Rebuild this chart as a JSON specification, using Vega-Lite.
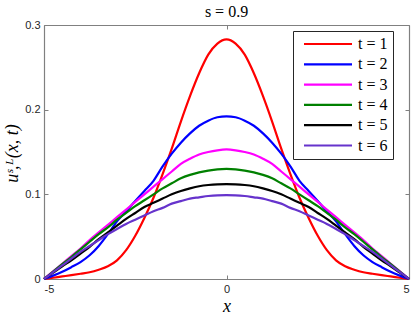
{
  "$schema": "https://vega.github.io/schema/vega-lite/v6.json",
  "width": 365,
  "height": 254,
  "autosize": "none",
  "padding": {"left": 44, "top": 25, "right": 5, "bottom": 42},
  "background": "white",
  "title": {"text": "s = 0.9", "font": "Liberation Serif", "fontSize": 16, "fontWeight": "normal", "color": "#000000", "offset": -1},
  "data": {"values": [
    {"x": -5, "t1": 0, "t2": 0, "t3": 0, "t4": 0, "t5": 0, "t6": 0},
    {"x": -4.75, "t1": 0.0015, "t2": 0.004, "t3": 0.009, "t4": 0.0088, "t5": 0.0075, "t6": 0.008},
    {"x": -4.5, "t1": 0.003, "t2": 0.0085, "t3": 0.018, "t4": 0.0175, "t5": 0.015, "t6": 0.016},
    {"x": -4.25, "t1": 0.0045, "t2": 0.014, "t3": 0.027, "t4": 0.026, "t5": 0.022, "t6": 0.024},
    {"x": -4, "t1": 0.0062, "t2": 0.02, "t3": 0.036, "t4": 0.035, "t5": 0.03, "t6": 0.032},
    {"x": -3.75, "t1": 0.008, "t2": 0.028, "t3": 0.046, "t4": 0.044, "t5": 0.038, "t6": 0.039},
    {"x": -3.5, "t1": 0.011, "t2": 0.039, "t3": 0.055, "t4": 0.053, "t5": 0.047, "t6": 0.046},
    {"x": -3.25, "t1": 0.015, "t2": 0.053, "t3": 0.064, "t4": 0.061, "t5": 0.055, "t6": 0.053},
    {"x": -3, "t1": 0.022, "t2": 0.068, "t3": 0.073, "t4": 0.07, "t5": 0.063, "t6": 0.059},
    {"x": -2.75, "t1": 0.034, "t2": 0.08, "t3": 0.082, "t4": 0.078, "t5": 0.071, "t6": 0.065},
    {"x": -2.5, "t1": 0.051, "t2": 0.092, "t3": 0.091, "t4": 0.086, "t5": 0.078, "t6": 0.07},
    {"x": -2.25, "t1": 0.072, "t2": 0.104, "t3": 0.1, "t4": 0.093, "t5": 0.085, "t6": 0.075},
    {"x": -2, "t1": 0.096, "t2": 0.116, "t3": 0.109, "t4": 0.1, "t5": 0.09, "t6": 0.08},
    {"x": -1.75, "t1": 0.124, "t2": 0.133, "t3": 0.118, "t4": 0.107, "t5": 0.095, "t6": 0.084},
    {"x": -1.5, "t1": 0.154, "t2": 0.148, "t3": 0.127, "t4": 0.113, "t5": 0.1, "t6": 0.089},
    {"x": -1.25, "t1": 0.186, "t2": 0.161, "t3": 0.136, "t4": 0.119, "t5": 0.104, "t6": 0.092},
    {"x": -1, "t1": 0.216, "t2": 0.172, "t3": 0.142, "t4": 0.123, "t5": 0.107, "t6": 0.095},
    {"x": -0.75, "t1": 0.243, "t2": 0.181, "t3": 0.147, "t4": 0.126, "t5": 0.1095, "t6": 0.0965},
    {"x": -0.5, "t1": 0.265, "t2": 0.187, "t3": 0.15, "t4": 0.128, "t5": 0.111, "t6": 0.098},
    {"x": -0.25, "t1": 0.278, "t2": 0.191, "t3": 0.152, "t4": 0.1295, "t5": 0.1118, "t6": 0.0988},
    {"x": 0, "t1": 0.283, "t2": 0.192, "t3": 0.153, "t4": 0.13, "t5": 0.112, "t6": 0.099},
    {"x": 0.25, "t1": 0.278, "t2": 0.191, "t3": 0.152, "t4": 0.1295, "t5": 0.1118, "t6": 0.0988},
    {"x": 0.5, "t1": 0.265, "t2": 0.187, "t3": 0.15, "t4": 0.128, "t5": 0.111, "t6": 0.098},
    {"x": 0.75, "t1": 0.243, "t2": 0.181, "t3": 0.147, "t4": 0.126, "t5": 0.1095, "t6": 0.0965},
    {"x": 1, "t1": 0.216, "t2": 0.172, "t3": 0.142, "t4": 0.123, "t5": 0.107, "t6": 0.095},
    {"x": 1.25, "t1": 0.186, "t2": 0.161, "t3": 0.136, "t4": 0.119, "t5": 0.104, "t6": 0.092},
    {"x": 1.5, "t1": 0.154, "t2": 0.148, "t3": 0.127, "t4": 0.113, "t5": 0.1, "t6": 0.089},
    {"x": 1.75, "t1": 0.124, "t2": 0.133, "t3": 0.118, "t4": 0.107, "t5": 0.095, "t6": 0.084},
    {"x": 2, "t1": 0.096, "t2": 0.116, "t3": 0.109, "t4": 0.1, "t5": 0.09, "t6": 0.08},
    {"x": 2.25, "t1": 0.072, "t2": 0.104, "t3": 0.1, "t4": 0.093, "t5": 0.085, "t6": 0.075},
    {"x": 2.5, "t1": 0.051, "t2": 0.092, "t3": 0.091, "t4": 0.086, "t5": 0.078, "t6": 0.07},
    {"x": 2.75, "t1": 0.034, "t2": 0.08, "t3": 0.082, "t4": 0.078, "t5": 0.071, "t6": 0.065},
    {"x": 3, "t1": 0.022, "t2": 0.068, "t3": 0.073, "t4": 0.07, "t5": 0.063, "t6": 0.059},
    {"x": 3.25, "t1": 0.015, "t2": 0.053, "t3": 0.064, "t4": 0.061, "t5": 0.055, "t6": 0.053},
    {"x": 3.5, "t1": 0.011, "t2": 0.039, "t3": 0.055, "t4": 0.053, "t5": 0.047, "t6": 0.046},
    {"x": 3.75, "t1": 0.008, "t2": 0.028, "t3": 0.046, "t4": 0.044, "t5": 0.038, "t6": 0.039},
    {"x": 4, "t1": 0.0062, "t2": 0.02, "t3": 0.036, "t4": 0.035, "t5": 0.03, "t6": 0.032},
    {"x": 4.25, "t1": 0.0045, "t2": 0.014, "t3": 0.027, "t4": 0.026, "t5": 0.022, "t6": 0.024},
    {"x": 4.5, "t1": 0.003, "t2": 0.0085, "t3": 0.018, "t4": 0.0175, "t5": 0.015, "t6": 0.016},
    {"x": 4.75, "t1": 0.0015, "t2": 0.004, "t3": 0.009, "t4": 0.0088, "t5": 0.0075, "t6": 0.008},
    {"x": 5, "t1": 0, "t2": 0, "t3": 0, "t4": 0, "t5": 0, "t6": 0}
  ]},
  "transform": [{"fold": ["t1", "t2", "t3", "t4", "t5", "t6"], "as": ["series", "u"]}],
  "layer": [
    {
      "mark": {"type": "line", "strokeWidth": 2.2, "interpolate": "monotone"},
      "encoding": {
        "x": {"field": "x", "type": "quantitative", "scale": {"domain": [-5, 5], "nice": false},
          "axis": {"values": [-5, 0, 5], "labelExpr": "datum.value < 0 ? '-' + (-datum.value) : '' + datum.value", "title": "x", "titleFont": "Liberation Serif", "titleFontStyle": "italic", "titleFontSize": 18, "titleFontWeight": "normal", "titlePadding": 3}},
        "y": {"field": "u", "type": "quantitative", "scale": {"domain": [0, 0.3], "nice": false},
          "axis": {"values": [0, 0.1, 0.2, 0.3], "labelExpr": "'' + datum.value", "title": "uˢ,ᴸ(x, t)", "titleFont": "Liberation Serif", "titleFontStyle": "italic", "titleFontSize": 18, "titleFontWeight": "normal", "titleX": -23, "titleY": 128, "titleAngle": -90, "titleAlign": "center", "titleBaseline": "bottom"}},
        "color": {"field": "series", "type": "nominal",
          "scale": {"domain": ["t1", "t2", "t3", "t4", "t5", "t6"], "range": ["#ff0000", "#0000ff", "#ff00ff", "#008000", "#000000", "#6633cc"]},
          "legend": {"title": null, "orient": "none", "legendX": 249, "legendY": 6, "labelExpr": "'t = ' + slice(datum.label, 1) + '\u00a0\u00a0\u00a0'",
            "symbolType": "M-0.4,0H9.2", "symbolSize": 100, "symbolStrokeWidth": 2.2, "labelFont": "Liberation Serif", "labelFontSize": 16, "labelColor": "#000000",
            "fillColor": "white", "strokeColor": "#262626", "padding": 5, "rowPadding": 4.3, "labelOffset": 44}}
      }
    },
    {
      "mark": {"type": "line", "opacity": 0},
      "encoding": {
        "x": {"field": "x", "type": "quantitative", "axis": {"orient": "top", "values": [-5, 0, 5], "labels": false, "title": null}},
        "y": {"field": "u", "type": "quantitative", "axis": {"orient": "right", "values": [0, 0.1, 0.2, 0.3], "labels": false, "title": null}}
      }
    }
  ],
  "resolve": {"axis": {"x": "independent", "y": "independent"}},
  "config": {
    "view": {"stroke": null},
    "axis": {"grid": false, "domainColor": "#808080", "domainWidth": 1.2, "tickColor": "#808080", "tickSize": -4, "labelPadding": 8,
      "labelFont": "Liberation Sans", "labelFontSize": 11, "labelColor": "#262626", "titleColor": "#000000"}
  }
}
